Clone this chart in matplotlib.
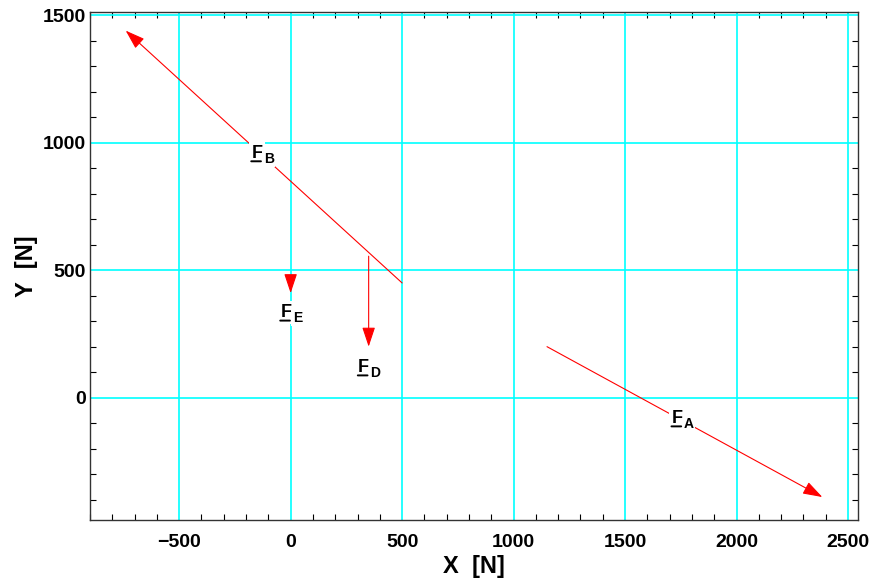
import numpy as np
import matplotlib.pyplot as plt
from matplotlib.ticker import MultipleLocator
from matplotlib.transforms import offset_copy

# force vectors: tail (x0, y0) -> head (x1, y1)
names = ["A", "B", "D", "E"]
x0 = [1150, 500, 350, 0]
y0 = [200, 450, 555, 475]
x1 = [2385, -740, 350, 0]
y1 = [-390, 1440, 200, 410]

# label positions
lab_x = [1755, -130, 348, 0]
lab_y = [-80, 960, 120, 335]

plt.rcParams['font.family'] = ['Liberation Sans', 'DejaVu Sans']

fig = plt.figure(figsize=(8.71, 5.79), dpi=100)
ax = fig.add_axes([90 / 871, 59 / 579, 768 / 871, 508 / 579])

# underline start, shifted from the label point in points
ul_tr = offset_copy(ax.transData, fig=fig, x=-7.5, y=-6.0, units="points")

for i in range(len(names)):
    ax.annotate("", xy=(x1[i], y1[i]), xytext=(x0[i], y0[i]),
                arrowprops=dict(arrowstyle="-|>,head_length=0.6,head_width=0.2",
                                color="red", lw=0.8,
                                mutation_scale=20, shrinkA=0, shrinkB=0),
                zorder=3)
    # underlined F with a subscript letter
    ax.annotate("F", (lab_x[i], lab_y[i]), xytext=(-3.5, -3.5),
                textcoords="offset points", ha="center", va="baseline",
                fontsize=13, fontweight="bold", zorder=5,
                bbox=dict(facecolor="white", edgecolor="none", pad=2))
    ax.annotate("", (lab_x[i], lab_y[i]), xycoords=ul_tr, xytext=(7, 0),
                textcoords="offset points",
                arrowprops=dict(arrowstyle="-", color="black", lw=1.4,
                                shrinkA=0, shrinkB=0),
                zorder=6)
    ax.annotate(names[i], (lab_x[i], lab_y[i]), xytext=(1.5, -7.0),
                textcoords="offset points", ha="left", va="baseline",
                fontsize=10, fontweight="bold", zorder=5,
                bbox=dict(facecolor="white", edgecolor="none", pad=1))

ax.set_xlim(-900, 2545)
ax.set_ylim(-480, 1513)
ax.xaxis.set_major_locator(MultipleLocator(500))
ax.yaxis.set_major_locator(MultipleLocator(500))
ax.xaxis.set_minor_locator(MultipleLocator(100))
ax.yaxis.set_minor_locator(MultipleLocator(100))
ax.grid(True, which="major", color="cyan", lw=1.2)
ax.set_axisbelow(True)

ax.tick_params(which="both", direction="in", top=True, right=True,
               labelsize=14, colors="black")
ax.tick_params(which="major", length=0)
ax.tick_params(axis="x", which="major", pad=10)
ax.tick_params(axis="y", which="major", pad=3)
ax.tick_params(which="minor", length=4, width=0.8)
for lbl in ax.get_xticklabels() + ax.get_yticklabels():
    lbl.set_fontweight("bold")
for s in ax.spines.values():
    s.set_color("#333333")
    s.set_linewidth(1.0)

ax.set_xlabel("X  [N]", fontsize=17, fontweight="bold", labelpad=3)
ax.set_ylabel("Y  [N]", fontsize=17, fontweight="bold", labelpad=3)

fig.savefig("out.png", dpi=100)
